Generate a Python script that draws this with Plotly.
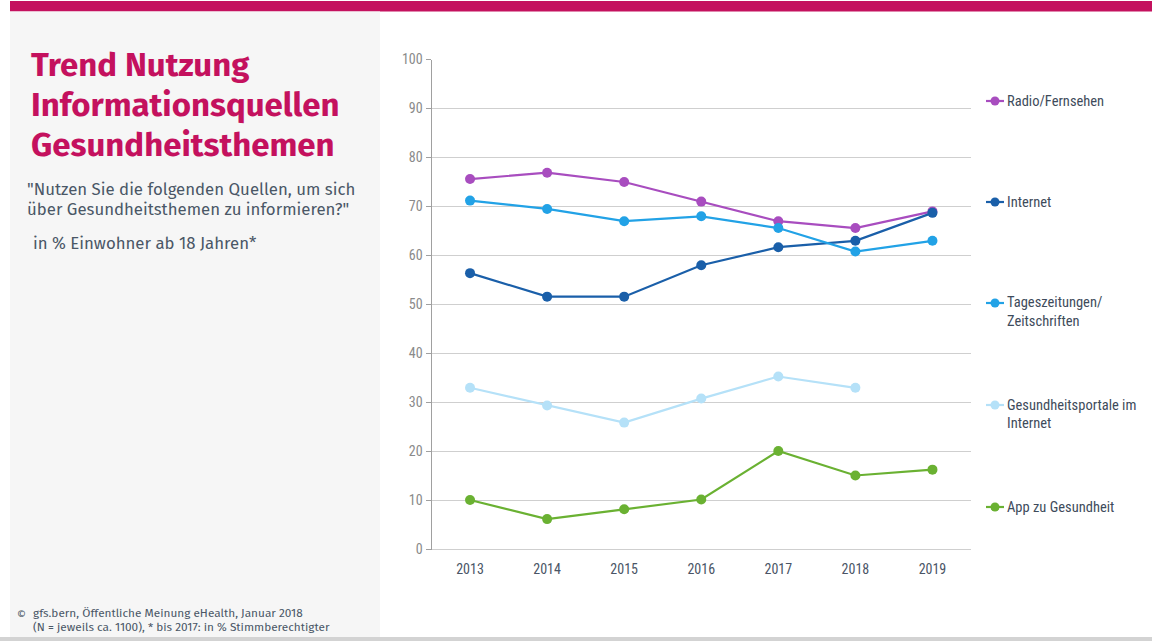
import plotly.graph_objects as go

years = ["2013", "2014", "2015", "2016", "2017", "2018", "2019"]
radio_tv = [75.6, 76.9, 75.0, 71.0, 67.0, 65.6, 69.0]
internet = [56.4, 51.6, 51.6, 58.0, 61.7, 63.0, 68.7]
zeitungen = [71.2, 69.5, 67.0, 68.0, 65.6, 60.8, 63.0]
portale = [33.0, 29.4, 25.9, 30.8, 35.3, 33.0, None]
app = [10.1, 6.2, 8.2, 10.2, 20.1, 15.1, 16.3]

series_labels = [["Radio/Fernsehen"], ["Internet"], ["Tageszeitungen/", "Zeitschriften"],
                 ["Gesundheitsportale im", "Internet"], ["App zu Gesundheit"]]
series_values = [radio_tv, internet, zeitungen, portale, app]
series_colors = ["#A84DBF", "#1A5FA9", "#22A2E6", "#B5E1F8", "#6AB132"]
legend_ypix = [101, 202, 303, 405, 507]

title_lines = ["Trend Nutzung", "Informationsquellen", "Gesundheitsthemen"]
subtitle_lines = ["\"Nutzen Sie die folgenden Quellen, um sich", "über Gesundheitsthemen zu informieren?\""]
basis_text = "in % Einwohner ab 18 Jahren*"
footer_lines = ["gfs.bern, Öffentliche Meinung eHealth, Januar 2018",
                "(N = jeweils ca. 1100), * bis 2017: in % Stimmberechtigter"]

W, H = 1152, 641
def px(x):
    return x / W
def py(y):
    return 1 - y / H

FONT = "Fira Sans, Noto Sans, Open Sans, sans-serif"
NARROW = "Roboto Condensed, Liberation Sans Narrow, Roboto, sans-serif"
TXT = "#4A5766"

fig = go.Figure()
for labels, vals, col in zip(series_labels, series_values, series_colors):
    fig.add_trace(go.Scatter(
        x=years, y=vals, mode="lines+markers", name=" ".join(labels),
        line=dict(color=col, width=2.2),
        marker=dict(color=col, size=10),
        connectgaps=False, showlegend=False,
    ))

shapes = []
shapes.append(dict(type="rect", xref="paper", yref="paper", x0=px(10), x1=1, y0=py(11.5), y1=py(1),
                   fillcolor="#C4115E", line=dict(width=0), layer="below"))
shapes.append(dict(type="rect", xref="paper", yref="paper", x0=px(10), x1=px(380), y0=py(637), y1=py(11.5),
                   fillcolor="#F6F6F6", line=dict(width=0), layer="below"))
shapes.append(dict(type="rect", xref="paper", yref="paper", x0=0, x1=1, y0=0, y1=py(637),
                   fillcolor="#D3D3D3", line=dict(width=0), layer="below"))

annotations = []

def text(t, x, y, size, color, family=FONT):
    annotations.append(dict(text=t, xref="paper", yref="paper", x=px(x), y=py(y),
                            xanchor="left", yanchor="middle", align="left", showarrow=False,
                            font=dict(family=family, size=size, color=color)))

for labels, col, ly in zip(series_labels, series_colors, legend_ypix):
    shapes.append(dict(type="line", xref="paper", yref="paper", x0=px(986), x1=px(1004),
                       y0=py(ly), y1=py(ly), line=dict(color=col, width=2.2)))
    shapes.append(dict(type="circle", xref="paper", yref="paper", x0=px(990.5), x1=px(999.5),
                       y0=py(ly + 4.5), y1=py(ly - 4.5), fillcolor=col, line=dict(width=0)))
    for i, lab in enumerate(labels):
        text(lab, 1005, ly + 18 * i, 14.5, "#3E4B5B", NARROW)

for i, t in enumerate(title_lines):
    text("<b>" + t + "</b>", 29, 65 + 40 * i, 33, "#C4115E")
for i, t in enumerate(subtitle_lines):
    text(t, 25, 189 + 20 * i, 16.8, TXT)
text(basis_text, 31, 243, 16.8, TXT)
text("©", 15, 614, 11, TXT)
for i, t in enumerate(footer_lines):
    text(t, 31, 613 + 14 * i, 11.8, TXT)

fig.update_layout(
    template="none",
    width=W, height=H,
    margin=dict(l=0, r=0, t=0, b=0, pad=0, autoexpand=False),
    paper_bgcolor="white", plot_bgcolor="white",
    shapes=shapes, annotations=annotations,
    xaxis=dict(domain=[px(431.5), px(971)], type="category", range=[-0.5, 6.5],
               automargin=False, showgrid=False, showline=False, ticks="", zeroline=False,
               ticklabelstandoff=9,
               tickfont=dict(family=NARROW, size=14, color="#4A5566")),
    yaxis=dict(domain=[py(549.5), py(59.5)], range=[0, 100], dtick=10, automargin=False,
               showgrid=True, gridcolor="#CFCFCF", gridwidth=1,
               showline=True, linecolor="#A0A0A0", linewidth=1,
               ticks="outside", ticklen=5, tickcolor="#A0A0A0",
               zeroline=True, zerolinecolor="#CFCFCF", zerolinewidth=1,
               tickfont=dict(family=NARROW, size=14, color="#8A8A8A")),
    font=dict(family=FONT),
)

post = ("var s=document.createElement('style');"
        "s.innerHTML='html,body{margin:0!important;padding:0!important;overflow:hidden!important;}';"
        "document.head.appendChild(s);")

fig.write_html("out.html", config={"displayModeBar": False, "staticPlot": True},
               post_script=post)
